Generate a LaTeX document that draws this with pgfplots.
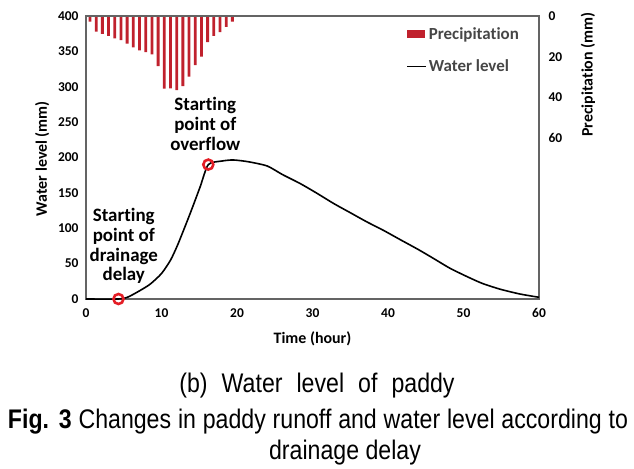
\documentclass[border=0pt]{standalone}
\usepackage{pgfplots}
\pgfplotsset{compat=1.18}
\usepackage{fontspec}
\setmainfont{Carlito}[Ligatures=NoCommon]
\newfontfamily\capfont{Liberation Sans}
\definecolor{barred}{RGB}{192,33,45}
\definecolor{circred}{RGB}{228,30,38}
\definecolor{framegray}{RGB}{100,100,100}
\definecolor{legtext}{RGB}{70,70,70}
\begin{document}
\begin{tikzpicture}
\useasboundingbox (-86bp,-170bp) rectangle (548bp,299bp);
% precipitation axis (right, reversed)
\begin{axis}[
  scale only axis, width=453bp, height=283bp,
  xmin=0, xmax=60, ymin=0, ymax=139, y dir=reverse,
  axis x line=none, axis y line*=right,
  axis line style={framegray, line width=1.5bp},
  ytick={0,20,40,60}, major tick length=0,
  /pgf/number format/assume math mode=true,
  yticklabel style={font=\bfseries\fontsize{13.5}{13.5}\selectfont, anchor=west, xshift=6bp},
  ylabel={Precipitation (mm)},
  ylabel style={font=\bfseries\fontsize{16}{16}\selectfont, at={(rel axis cs:1.108,0.793)}, anchor=center},
  clip=false,
]
\addplot[ybar, bar width=2.8bp, fill=barred, draw=none] coordinates {
(0.53,2.8) (1.35,7.7) (2.17,8.8) (2.99,9.7) (3.81,11.0) (4.63,11.8)
(5.45,13.6) (6.27,15.4) (7.09,16.9) (7.91,17.7) (8.73,18.8) (9.55,24.6)
(10.37,35.7) (11.19,35.5) (12.01,36.4) (12.83,34.4) (13.65,29.8) (14.47,24.1)
(15.29,20.0) (16.11,12.8) (16.93,9.8) (17.75,7.9) (18.57,5.3) (19.39,2.8)
};
\end{axis}
% water level axis
\begin{axis}[
  scale only axis, width=453bp, height=283bp,
  xmin=0, xmax=60, ymin=0, ymax=400,
  axis line style={framegray, line width=1.5bp},
  xtick={0,10,...,60}, ytick={0,50,...,400}, major tick length=0,
  /pgf/number format/assume math mode=true,
  ticklabel style={font=\bfseries\fontsize{13.5}{13.5}\selectfont},
  xticklabel style={yshift=-6bp},
  yticklabel style={xshift=-4bp},
  xlabel={Time (hour)},
  ylabel={Water level (mm)},
  xlabel style={font=\bfseries\fontsize{16}{16}\selectfont, at={(rel axis cs:0.5,-0.141)}, anchor=center},
  ylabel style={font=\bfseries\fontsize{16}{16}\selectfont, at={(rel axis cs:-0.097,0.496)}, anchor=center},
  legend style={at={(rel axis cs:0.70,0.975)}, anchor=north west, draw=none, fill=none,
    font=\bfseries\fontsize{17}{17}\selectfont\color{legtext}, row sep=15bp,
    /tikz/every even column/.append style={column sep=1bp}},
  legend cell align=left,
  clip=false,
]
\addlegendimage{area legend, fill=barred, draw=none, legend image code/.code={\fill[barred] (0bp,-4bp) rectangle (18bp,4bp);}}
\addlegendentry{Precipitation}
\addplot[black, line width=1.6bp, smooth, tension=0.4, legend image code/.code={\draw[black, line width=1.6bp] (0bp,0bp) -- (19bp,0bp);}] coordinates {
(0,0) (4.3,0) (5.5,2.5) (7,11) (8.5,21) (10,36) (11.2,55) (12.2,78) (13.8,121)
(15.1,158) (16.2,190) (18,195) (19.5,196.5) (21.5,194) (24,188) (26,176)
(28.4,163) (30.5,150) (32.8,135) (35,122) (37.2,109) (39.4,97) (41.6,84)
(44,70) (46,57.5) (48.2,43.5) (50.5,31.5) (52.5,22) (54.9,13.7) (57.5,7) (60,2.4)
};
\addlegendentry{Water level}
\addplot[only marks, mark=o, mark size=5bp, circred, line width=2.6bp, forget plot] coordinates {(4.3,0) (16.2,190)};
\node[font=\bfseries\fontsize{19}{20}\selectfont, align=center] at (axis cs:15.8,247) {Starting\\point of\\overflow};
\node[font=\bfseries\fontsize{19}{20}\selectfont, align=center] at (axis cs:5.0,75) {Starting\\point of\\drainage\\delay};
\end{axis}
\node[anchor=base] at (231bp,-93bp) {\scalebox{0.86}[1]{\capfont\fontsize{27}{27}\selectfont\makebox[320bp][s]{(b) Water level of paddy}}};
\node[anchor=base] at (232bp,-129bp) {\scalebox{0.86}[1]{\capfont\fontsize{27}{27}\selectfont\makebox[721bp][s]{\textbf{Fig. 3} Changes in paddy runoff and water level according to}}};
\node[anchor=base] at (259bp,-160bp) {\scalebox{0.86}[1]{\capfont\fontsize{27}{27}\selectfont drainage delay}};
\end{tikzpicture}
\end{document}
